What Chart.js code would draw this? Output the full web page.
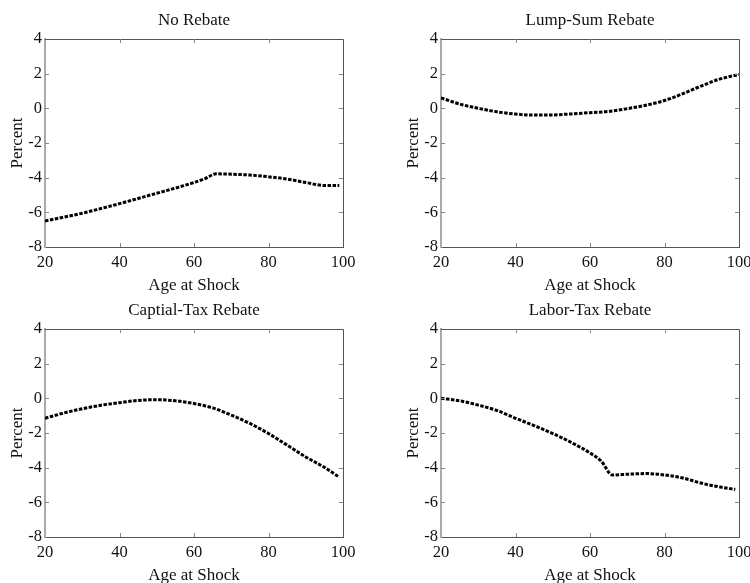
<!DOCTYPE html>
<html>
<head>
<meta charset="utf-8">
<script src="https://cdn.jsdelivr.net/npm/chart.js@4.4.0/dist/chart.umd.min.js"></script>
<style>
  html, body { margin: 0; padding: 0; background: #fff; overflow: hidden; width: 750px; height: 583px; }
  .panel { position: absolute; }
</style>
</head>
<body>
<div class="panel" style="left:0;top:0;width:375px;height:300px"><canvas id="c1"></canvas></div>
<div class="panel" style="left:396px;top:0;width:375px;height:300px"><canvas id="c2"></canvas></div>
<div class="panel" style="left:0;top:290px;width:375px;height:300px"><canvas id="c3"></canvas></div>
<div class="panel" style="left:396px;top:290px;width:375px;height:300px"><canvas id="c4"></canvas></div>
<script>
// tick labels
const xTicks = [20, 40, 60, 80, 100];
const yTicks = [-8, -6, -4, -2, 0, 2, 4];

// No Rebate
const noRebateAge = [20, 25, 30, 35, 40, 45, 50, 55, 60, 63, 66, 70, 75, 80, 85, 90, 95, 99];
const noRebateVal = [-6.5, -6.28, -6.05, -5.78, -5.5, -5.2, -4.9, -4.6, -4.28, -4.05, -3.78, -3.8, -3.85, -3.95, -4.08, -4.28, -4.45, -4.45];

// Lump-Sum Rebate
const lumpAge = [20, 25, 30, 35, 40, 45, 50, 55, 60, 65, 70, 75, 80, 85, 90, 95, 100];
const lumpVal = [0.6, 0.25, 0.0, -0.2, -0.33, -0.39, -0.38, -0.32, -0.25, -0.18, -0.02, 0.18, 0.45, 0.85, 1.3, 1.7, 1.95];

// Captial-Tax Rebate
const capAge = [20, 25, 30, 35, 40, 45, 50, 55, 60, 65, 70, 75, 80, 85, 90, 95, 99];
const capVal = [-1.15, -0.85, -0.6, -0.4, -0.25, -0.12, -0.08, -0.14, -0.3, -0.55, -0.97, -1.45, -2.03, -2.7, -3.38, -3.98, -4.55];

// Labor-Tax Rebate
const laborAge = [20, 25, 30, 35, 40, 45, 50, 55, 60, 63, 66, 70, 75, 80, 85, 90, 95, 99];
const laborVal = [0, -0.14, -0.39, -0.7, -1.15, -1.57, -2.03, -2.55, -3.15, -3.62, -4.42, -4.38, -4.34, -4.42, -4.6, -4.9, -5.12, -5.25];

const FONT = "'Liberation Serif', 'Times New Roman', serif";

// inward ticks on all four sides + top/right frame
const frameTicks = {
    id: 'frameTicks',
    afterDraw(chart) {
        const ctx = chart.ctx;
        const a = chart.chartArea;
        const xs = chart.scales.x, ys = chart.scales.y;
        ctx.save();
        ctx.strokeStyle = '#555';
        ctx.lineWidth = 1;
        ctx.beginPath();
        ctx.moveTo(a.left, a.top + 0.5);
        ctx.lineTo(a.right + 0.5, a.top + 0.5);
        ctx.lineTo(a.right + 0.5, a.bottom);
        ctx.stroke();
        ctx.strokeStyle = '#888';
        ctx.beginPath();
        xTicks.forEach(v => {
            const px = Math.round(xs.getPixelForValue(v)) + 0.5;
            if (v === xTicks[0] || v === xTicks[xTicks.length - 1]) return;
            ctx.moveTo(px, a.bottom); ctx.lineTo(px, a.bottom - 4);
            ctx.moveTo(px, a.top); ctx.lineTo(px, a.top + 4);
        });
        yTicks.forEach(v => {
            const py = Math.round(ys.getPixelForValue(v)) + 0.5;
            if (v === yTicks[0] || v === yTicks[yTicks.length - 1]) return;
            ctx.moveTo(a.left, py); ctx.lineTo(a.left + 4, py);
            ctx.moveTo(a.right, py); ctx.lineTo(a.right - 4, py);
        });
        ctx.stroke();
        ctx.restore();
    }
};

function makePanel(id, title, ages, vals) {
    const ctx = document.getElementById(id).getContext('2d');
    return new Chart(ctx, {
        type: 'line',
        data: {
            datasets: [{
                data: ages.map((a, i) => ({ x: a, y: vals[i] })),
                borderColor: '#000',
                borderWidth: 3,
                borderDash: [3.5, 1.5],
                pointRadius: 0,
                fill: false,
                cubicInterpolationMode: 'monotone'
            }]
        },
        options: {
            responsive: true,
            maintainAspectRatio: false,
            animation: false,
            layout: { padding: { left: 0, right: 32, top: 0, bottom: 0 } },
            plugins: {
                legend: { display: false },
                tooltip: { enabled: false },
                title: {
                    display: true,
                    text: title,
                    fullSize: false,
                    color: '#111',
                    font: { family: FONT, size: 17, weight: 'normal' },
                    padding: { top: 10.3, bottom: 8.3 }
                }
            },
            scales: {
                x: {
                    type: 'linear',
                    min: 20, max: 100,
                    afterBuildTicks: s => { s.ticks = xTicks.map(v => ({ value: v })); },
                    afterFit: s => { s.height = 53; },
                    grid: { display: false, drawTicks: false },
                    border: { display: true, color: '#555', width: 1 },
                    ticks: { color: '#111', padding: 6, maxRotation: 0, font: { family: FONT, size: 16.5 } },
                    title: { display: true, text: 'Age at Shock', color: '#111', padding: { top: 0, bottom: 3.8 }, font: { family: FONT, size: 17 } }
                },
                y: {
                    min: -8, max: 4,
                    afterBuildTicks: s => { s.ticks = yTicks.map(v => ({ value: v })); },
                    afterFit: s => { s.width = 45; },
                    grid: { display: false, drawTicks: false },
                    border: { display: true, color: '#aaa', width: 2 },
                    ticks: { color: '#111', padding: 3, font: { family: FONT, size: 16.5 } },
                    title: { display: true, text: 'Percent', color: '#111', padding: { top: 7.5, bottom: 0 }, font: { family: FONT, size: 17 } }
                }
            }
        },
        plugins: [frameTicks]
    });
}

makePanel('c1', 'No Rebate', noRebateAge, noRebateVal);
makePanel('c2', 'Lump-Sum Rebate', lumpAge, lumpVal);
makePanel('c3', 'Captial-Tax Rebate', capAge, capVal);
makePanel('c4', 'Labor-Tax Rebate', laborAge, laborVal);
</script>
</body>
</html>
